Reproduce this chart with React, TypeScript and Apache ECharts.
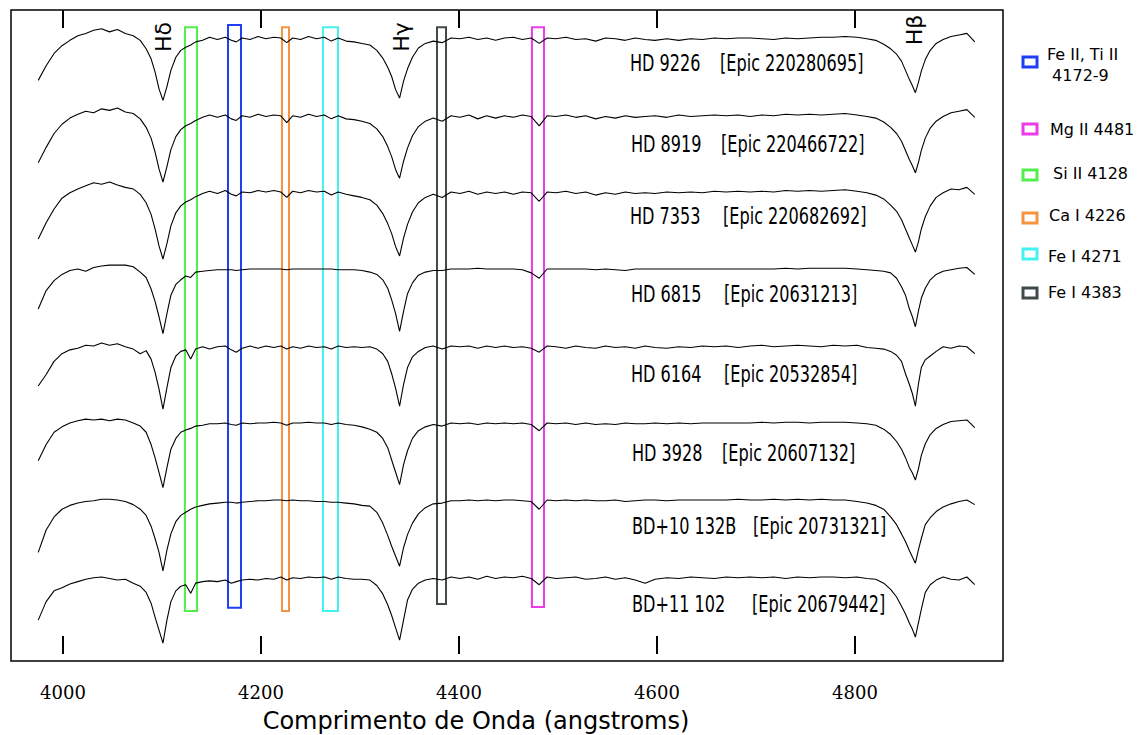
import React, { useEffect, useRef } from "react";
import * as echarts from "echarts";

// Wavelength grid (angstroms)
const wavelengths = [
  3975, 3983, 3991, 3999, 4007, 4015, 4023, 4031, 4039, 4047,
  4055, 4063, 4071, 4078, 4084, 4089, 4093, 4097, 4101, 4105,
  4109, 4114, 4119, 4124, 4129, 4134, 4141, 4148, 4156, 4164,
  4170, 4175, 4181, 4189, 4197, 4205, 4213, 4220, 4226, 4232,
  4240, 4248, 4256, 4264, 4271, 4278, 4286, 4294, 4302, 4310,
  4317, 4323, 4328, 4332, 4336, 4340, 4344, 4348, 4353, 4359,
  4366, 4374, 4383, 4392, 4401, 4410, 4419, 4428, 4437, 4446,
  4455, 4464, 4473, 4481, 4489, 4498, 4508, 4518, 4528, 4538,
  4548, 4558, 4568, 4578, 4588, 4598, 4610, 4622, 4634, 4646,
  4658, 4670, 4682, 4694, 4706, 4718, 4730, 4742, 4754, 4766,
  4778, 4790, 4802, 4812, 4821, 4829, 4836, 4842, 4847, 4851,
  4855, 4858, 4861, 4864, 4867, 4871, 4876, 4882, 4889, 4897,
  4905, 4913, 4921,
];

// Relative flux of each star
const fluxHD9226 = [
  0.45, 0.64, 0.80, 0.90, 0.97, 1.03, 1.06, 1.10, 1.12, 1.08,
  1.11, 1.06, 1.03, 0.97, 0.86, 0.73, 0.56, 0.34, 0.19, 0.37,
  0.58, 0.75, 0.84, 0.88, 0.91, 0.95, 0.97, 1.01, 0.98, 1.01,
  0.97, 0.95, 1.00, 0.98, 1.02, 0.99, 1.01, 1.00, 0.94, 1.00,
  0.98, 1.02, 0.99, 1.01, 0.96, 1.00, 0.96, 0.95, 0.93, 0.91,
  0.84, 0.74, 0.62, 0.50, 0.33, 0.22, 0.44, 0.60, 0.75, 0.87,
  0.93, 0.96, 0.94, 1.00, 0.99, 1.01, 0.98, 1.00, 0.97, 1.00,
  1.01, 0.98, 1.00, 0.93, 1.00, 0.99, 1.01, 0.98, 0.99, 0.96,
  1.00, 0.99, 0.97, 1.00, 0.98, 0.97, 0.99, 0.97, 0.99, 0.98,
  1.00, 0.99, 1.00, 1.00, 0.99, 0.98, 1.00, 0.99, 1.00, 1.01,
  1.01, 1.02, 1.01, 0.99, 0.97, 0.92, 0.86, 0.79, 0.70, 0.58,
  0.46, 0.38, 0.29, 0.42, 0.57, 0.72, 0.84, 0.93, 0.98, 1.02,
  1.04, 1.06, 0.95,
];
const fluxHD8919 = [
  0.38, 0.58, 0.76, 0.88, 0.96, 1.01, 1.05, 1.03, 1.08, 1.06,
  1.09, 1.04, 1.02, 0.95, 0.84, 0.70, 0.52, 0.30, 0.13, 0.33,
  0.55, 0.72, 0.81, 0.86, 0.89, 0.93, 0.97, 1.00, 0.97, 1.00,
  0.95, 0.93, 0.99, 0.97, 1.01, 0.98, 1.00, 0.99, 0.90, 0.99,
  0.97, 1.01, 0.98, 1.00, 0.95, 0.99, 0.95, 0.94, 0.92, 0.89,
  0.82, 0.72, 0.59, 0.46, 0.29, 0.18, 0.40, 0.57, 0.73, 0.85,
  0.92, 0.96, 0.92, 0.99, 0.97, 1.00, 0.95, 0.99, 0.96, 0.99,
  0.97, 1.00, 0.98, 0.86, 0.99, 0.98, 1.00, 0.97, 0.99, 0.95,
  0.98, 0.96, 0.99, 0.97, 0.98, 0.99, 0.97, 1.00, 0.98, 0.99,
  1.00, 0.99, 1.00, 0.98, 1.00, 0.99, 1.01, 1.00, 1.01, 1.00,
  1.01, 1.02, 1.00, 0.98, 0.96, 0.91, 0.84, 0.76, 0.66, 0.54,
  0.42, 0.34, 0.25, 0.38, 0.54, 0.70, 0.83, 0.92, 0.98, 1.03,
  1.05, 1.07, 0.97,
];
const fluxHD7353 = [
  0.39, 0.60, 0.78, 0.92, 0.99, 1.04, 1.08, 1.12, 1.10, 1.13,
  1.09, 1.06, 1.04, 0.97, 0.86, 0.71, 0.52, 0.30, 0.13, 0.33,
  0.56, 0.73, 0.82, 0.87, 0.90, 0.94, 0.98, 1.01, 0.98, 1.02,
  0.97, 0.95, 1.00, 0.99, 1.02, 1.00, 1.02, 1.00, 0.93, 1.01,
  0.99, 1.02, 1.00, 1.01, 0.96, 1.00, 0.97, 0.95, 0.93, 0.90,
  0.83, 0.72, 0.59, 0.46, 0.29, 0.17, 0.40, 0.58, 0.74, 0.86,
  0.93, 0.97, 0.93, 1.00, 0.98, 1.01, 0.97, 1.00, 0.98, 1.00,
  0.97, 1.00, 0.99, 0.88, 1.00, 0.99, 1.01, 0.98, 1.00, 0.96,
  0.99, 0.97, 1.00, 0.98, 0.99, 0.98, 1.00, 0.99, 1.00, 0.99,
  1.01, 1.00, 1.01, 1.00, 1.01, 1.00, 1.02, 1.01, 1.02, 1.01,
  1.02, 1.03, 1.01, 0.99, 0.96, 0.91, 0.83, 0.75, 0.64, 0.52,
  0.40, 0.31, 0.22, 0.35, 0.52, 0.68, 0.82, 0.93, 0.99, 1.04,
  1.03, 1.06, 0.97,
];
const fluxHD6815 = [
  0.48, 0.72, 0.85, 0.93, 0.98, 1.00, 0.97, 1.02, 1.04, 1.05,
  1.05, 1.05, 1.03, 0.96, 0.89, 0.74, 0.58, 0.38, 0.16, 0.42,
  0.66, 0.80, 0.86, 0.91, 0.89, 0.96, 0.97, 0.98, 0.99, 0.99,
  0.99, 0.98, 0.99, 1.00, 1.00, 1.00, 1.00, 1.00, 0.99, 1.00,
  1.00, 1.00, 1.00, 1.00, 1.00, 0.99, 0.99, 0.99, 0.98, 0.96,
  0.93, 0.86, 0.75, 0.60, 0.42, 0.19, 0.45, 0.68, 0.82, 0.92,
  0.96, 0.98, 0.98, 1.00, 1.00, 1.00, 1.01, 1.00, 1.00, 1.00,
  1.00, 0.99, 0.95, 0.88, 1.00, 1.00, 1.00, 1.00, 1.00, 0.99,
  1.00, 0.99, 0.98, 1.00, 1.00, 1.00, 1.00, 1.00, 1.00, 1.00,
  1.00, 1.00, 1.00, 1.00, 1.00, 1.00, 1.01, 1.00, 1.01, 1.01,
  1.01, 1.01, 1.00, 0.99, 0.98, 0.97, 0.95, 0.88, 0.77, 0.66,
  0.48, 0.38, 0.25, 0.45, 0.62, 0.75, 0.86, 0.93, 0.97, 0.99,
  1.01, 1.02, 0.93,
];
const fluxHD6164 = [
  0.48, 0.63, 0.80, 0.90, 0.95, 0.97, 1.01, 1.00, 1.04, 1.01,
  1.03, 0.99, 0.96, 0.90, 0.94, 0.83, 0.66, 0.44, 0.18, 0.46,
  0.72, 0.87, 0.93, 0.95, 0.83, 0.96, 0.99, 0.96, 0.99, 1.00,
  0.95, 0.92, 0.97, 1.00, 0.97, 1.00, 0.98, 1.00, 0.96, 0.99,
  0.97, 1.00, 0.98, 0.99, 0.96, 1.00, 0.98, 0.99, 0.98, 0.99,
  0.96, 0.90, 0.80, 0.64, 0.45, 0.22, 0.50, 0.72, 0.86, 0.93,
  0.98, 1.00, 0.96, 1.00, 0.99, 1.00, 0.97, 1.00, 0.98, 1.00,
  0.98, 0.99, 0.97, 0.92, 1.00, 0.99, 0.97, 1.00, 0.98, 0.97,
  1.00, 0.98, 0.99, 0.97, 1.00, 0.98, 0.97, 0.99, 0.98, 1.00,
  0.99, 1.00, 0.98, 1.00, 1.01, 0.99, 1.00, 1.01, 1.00, 0.99,
  1.01, 1.00, 1.01, 0.98, 0.97, 0.96, 0.93, 0.88, 0.80, 0.64,
  0.50, 0.38, 0.22, 0.50, 0.72, 0.82, 0.87, 0.93, 0.99, 0.97,
  1.00, 0.99, 0.90,
];
const fluxHD3928 = [
  0.51, 0.72, 0.88, 0.95, 1.00, 1.03, 1.05, 1.04, 1.05, 1.03,
  1.05, 1.04, 1.00, 0.96, 0.88, 0.72, 0.55, 0.36, 0.16, 0.42,
  0.66, 0.80, 0.88, 0.91, 0.93, 0.96, 0.97, 0.99, 0.99, 1.00,
  0.98, 0.97, 1.00, 0.99, 1.00, 1.00, 1.01, 1.00, 0.97, 1.00,
  1.00, 1.01, 1.00, 1.00, 0.98, 1.00, 0.98, 0.97, 0.95, 0.92,
  0.88, 0.80, 0.68, 0.52, 0.36, 0.20, 0.46, 0.64, 0.80, 0.90,
  0.95, 0.98, 0.96, 1.00, 0.99, 1.00, 0.98, 1.00, 0.99, 1.00,
  0.99, 1.00, 0.98, 0.90, 1.00, 0.99, 1.00, 0.98, 1.00, 0.98,
  0.99, 0.98, 1.00, 0.99, 0.99, 1.00, 0.99, 1.00, 0.99, 1.00,
  1.00, 1.00, 1.00, 1.00, 1.01, 1.00, 1.01, 1.01, 1.00, 1.01,
  1.01, 1.01, 1.00, 0.99, 0.97, 0.92, 0.85, 0.76, 0.66, 0.55,
  0.42, 0.35, 0.26, 0.40, 0.58, 0.73, 0.85, 0.93, 0.98, 1.02,
  1.03, 1.04, 0.94,
];
const fluxBD10132B = [
  0.32, 0.61, 0.78, 0.88, 0.93, 0.96, 0.98, 0.99, 1.01, 1.01,
  1.00, 0.98, 0.94, 0.88, 0.80, 0.66, 0.50, 0.32, 0.08, 0.35,
  0.56, 0.72, 0.80, 0.84, 0.88, 0.91, 0.93, 0.95, 0.96, 0.97,
  0.97, 0.96, 0.97, 0.98, 0.99, 0.99, 1.00, 1.00, 0.99, 1.00,
  0.99, 0.99, 0.98, 0.98, 0.97, 0.97, 0.96, 0.95, 0.93, 0.92,
  0.84, 0.70, 0.54, 0.40, 0.27, 0.14, 0.38, 0.55, 0.70, 0.82,
  0.90, 0.95, 0.96, 0.99, 0.99, 1.00, 0.99, 1.00, 0.99, 1.00,
  1.00, 0.99, 0.98, 0.88, 1.00, 0.99, 1.00, 0.99, 1.00, 0.99,
  0.99, 1.00, 0.98, 0.99, 1.00, 1.00, 0.99, 1.00, 1.00, 1.00,
  1.00, 1.00, 1.01, 1.00, 1.00, 1.01, 1.00, 1.01, 1.00, 1.01,
  1.00, 1.00, 0.98, 0.96, 0.93, 0.88, 0.78, 0.68, 0.56, 0.46,
  0.34, 0.26, 0.18, 0.35, 0.50, 0.68, 0.77, 0.85, 0.91, 0.95,
  0.98, 1.00, 0.94,
];
const fluxBD11102 = [
  0.44, 0.68, 0.82, 0.86, 0.91, 0.94, 0.97, 0.99, 1.00, 0.98,
  0.96, 0.97, 0.92, 0.88, 0.80, 0.66, 0.48, 0.31, 0.14, 0.44,
  0.68, 0.82, 0.88, 0.90, 0.79, 0.92, 0.94, 0.95, 0.94, 0.96,
  0.92, 0.94, 0.96, 0.97, 0.96, 0.98, 0.97, 1.00, 0.96, 0.99,
  0.98, 1.00, 0.99, 1.00, 0.97, 1.00, 0.98, 0.97, 0.97, 0.96,
  0.89, 0.78, 0.64, 0.50, 0.34, 0.18, 0.44, 0.70, 0.84, 0.92,
  0.96, 0.98, 0.96, 1.00, 0.98, 1.00, 0.97, 1.01, 0.98, 1.00,
  0.99, 1.01, 0.98, 0.90, 1.00, 0.98, 0.99, 1.00, 0.97, 0.98,
  1.00, 0.97, 0.99, 0.96, 0.92, 0.97, 0.99, 0.98, 1.00, 0.99,
  0.98, 1.00, 0.99, 1.00, 0.99, 1.00, 0.98, 1.00, 0.99, 1.00,
  1.00, 0.99, 1.00, 0.98, 0.97, 0.92, 0.84, 0.74, 0.62, 0.52,
  0.40, 0.32, 0.22, 0.40, 0.58, 0.80, 0.90, 0.96, 1.00, 0.97,
  0.96, 1.00, 0.90,
];

const fluxes = [
  fluxHD9226, fluxHD8919, fluxHD7353, fluxHD6815,
  fluxHD6164, fluxHD3928, fluxBD10132B, fluxBD11102,
];
const starNames = ["HD 9226", "HD 8919", "HD 7353", "HD 6815", "HD 6164", "HD 3928", "BD+10 132B", "BD+11 102"];
const epicIds = [
  "[Epic 220280695]", "[Epic 220466722]", "[Epic 220682692]", "[Epic 20631213]",
  "[Epic 20532854]", "[Epic 20607132]", "[Epic 20731321]", "[Epic 20679442]",
];
const offsets = [7, 6, 5, 4, 3, 2, 1, 0];

// Spectral-line windows (angstroms) and their vertical extent (flux + offset units)
const boxNames = ["Si II 4128", "Fe II, Ti II 4172-9", "Ca I 4226", "Fe I 4271", "Fe I 4383", "Mg II 4481"];
const boxLow = [4123.2, 4166.7, 4221.2, 4262.6, 4377.8, 4473.7];
const boxHigh = [4135.4, 4179.8, 4228.3, 4277.8, 4386.9, 4485.9];
const boxTop = [8.14, 8.17, 8.14, 8.14, 8.14, 8.14];
const boxBottom = [0.56, 0.60, 0.56, 0.56, 0.65, 0.61];
const boxColors = ["#52ee4c", "#1f3ff5", "#f59440", "#44f2f2", "#414a4a", "#ea3ce8"];

const balmerNames = ["Hδ", "Hγ", "Hβ"];
const tickValues = [4000, 4200, 4400, 4600, 4800];
const xTitle = "Comprimento de Onda (angstroms)";

const legendOrder = [1, 5, 0, 2, 3, 4];
const legendLines = [["Fe II, Ti II", " 4172-9"], ["Mg II 4481"], [" Si II 4128"], ["Ca I 4226"], ["Fe I 4271"], ["Fe I 4383"]];

export default function App() {
  const ref = useRef<HTMLDivElement>(null);
  useEffect(() => {
    if (!ref.current) return;
    const chart = echarts.init(ref.current, null, { renderer: "svg" });

    const series: any[] = fluxes.map((f, k) => ({
      type: "line",
      name: starNames[k],
      data: wavelengths.map((w, i) => [w, +(f[i] + offsets[k]).toFixed(3)]),
      showSymbol: false,
      symbol: "none",
      silent: true,
      lineStyle: { color: "#000", width: 1.1 },
      z: 2,
    }));
    series[series.length - 1].markArea = {
      silent: true,
      data: boxNames.map((n, j) => [
        {
          name: n,
          coord: [boxLow[j], boxBottom[j]],
          itemStyle: { color: "rgba(0,0,0,0)", borderColor: boxColors[j], borderWidth: 2 },
          label: { show: false },
        },
        { coord: [boxHigh[j], boxTop[j]] },
      ]),
    };

    const labelY = [63, 144, 216, 294, 374, 453, 526, 604];
    const nameX = [630, 631, 630, 631, 631, 632, 632, 632];
    const epicX = [720, 721, 723, 724, 724, 722, 753, 752];
    const graphics: any[] = [];
    starNames.forEach((n, k) => {
      graphics.push({
        type: "text", x: nameX[k], y: labelY[k], scaleX: 0.7, silent: true,
        style: { text: n, fontSize: 23, fontFamily: "DejaVu Sans", fill: "#000", align: "left", verticalAlign: "middle" },
      });
      graphics.push({
        type: "text", x: epicX[k], y: labelY[k], scaleX: 0.7, silent: true,
        style: { text: epicIds[k], fontSize: 23, fontFamily: "DejaVu Sans", fill: "#000", align: "left", verticalAlign: "middle" },
      });
    });
    const balmerPos = [[163, 37], [401, 37], [914, 30]];
    balmerNames.forEach((b, i) => {
      graphics.push({
        type: "text", x: balmerPos[i][0], y: balmerPos[i][1], rotation: Math.PI / 2, silent: true,
        style: { text: b, fontSize: 22, fontFamily: "DejaVu Sans", fill: "#000", align: "center", verticalAlign: "middle" },
      });
    });
    graphics.push({
      type: "text", x: 476, y: 721, silent: true,
      style: { text: xTitle, fontSize: 24, fontFamily: "DejaVu Sans", fill: "#000", align: "center", verticalAlign: "middle" },
    });
    const legSquareY = [57, 124, 170, 213, 249, 288];
    const legTextY = [[54, 75], [129], [173], [215], [256], [292]];
    const legTextX = [[1047, 1047], [1050], [1048], [1049], [1048], [1048]];
    legendOrder.forEach((bi, r) => {
      graphics.push({
        type: "rect", silent: true,
        shape: { x: 1023, y: legSquareY[r], width: 14, height: 10 },
        style: { fill: "#fff", stroke: boxColors[bi], lineWidth: 3 },
      });
      legendLines[r].forEach((t, li) => {
        graphics.push({
          type: "text", x: legTextX[r][li], y: legTextY[r][li], silent: true,
          style: { text: t, fontSize: 16, fontFamily: "DejaVu Sans", fill: "#000", align: "left", verticalAlign: "middle" },
        });
      });
    });

    const tickCommon = {
      show: true,
      inside: true,
      length: 18,
      customValues: tickValues,
      lineStyle: { color: "#000", width: 2 },
    };

    chart.setOption({
      animation: false,
      backgroundColor: "#fff",
      grid: {
        left: 11, top: 10, width: 992, height: 651,
        show: true, borderColor: "#000", borderWidth: 1.5, backgroundColor: "transparent",
        containLabel: false,
      },
      xAxis: [
        {
          type: "value", min: 3947.5, max: 4949.5, position: "bottom",
          axisLine: { show: false },
          axisTick: tickCommon,
          splitLine: { show: false },
          axisLabel: {
            customValues: tickValues, margin: 22, color: "#000",
            fontFamily: "DejaVu Serif", fontSize: 18,
            formatter: (v: number) => String(v),
          },
        },
        {
          type: "value", min: 3947.5, max: 4949.5, position: "top",
          axisLine: { show: false },
          axisTick: tickCommon,
          splitLine: { show: false },
          axisLabel: { show: false },
        },
      ],
      yAxis: { type: "value", min: -0.091, max: 8.364, show: false },
      series,
      graphic: graphics,
    });
    return () => chart.dispose();
  }, []);
  return (
    <div
      ref={ref}
      style={{ position: "fixed", left: 0, top: 0, width: 1147, height: 735, background: "#fff" }}
    />
  );
}
